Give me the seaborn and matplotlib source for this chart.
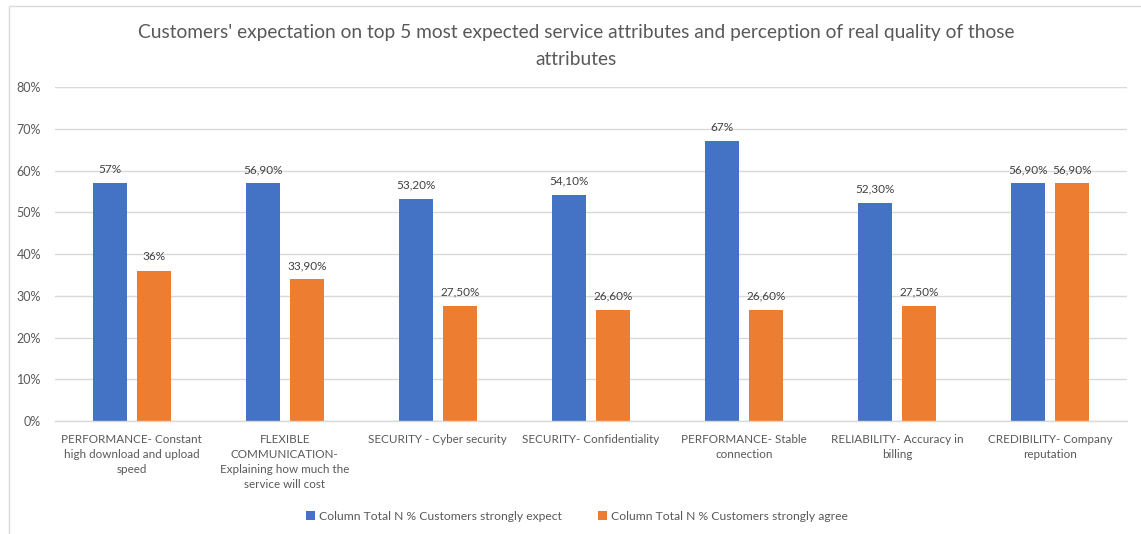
import pandas as pd
import seaborn as sns
import matplotlib.pyplot as plt
from matplotlib.patches import Rectangle

# Chart data
categories = [
    "PERFORMANCE- Constant\nhigh download and upload\nspeed",
    "FLEXIBLE\nCOMMUNICATION-\nExplaining how much the\nservice will cost",
    "SECURITY - Cyber security",
    "SECURITY- Confidentiality",
    "PERFORMANCE- Stable\nconnection",
    "RELIABILITY- Accuracy in\nbilling",
    "CREDIBILITY- Company\nreputation",
]
expect_values = [57.0, 56.9, 53.2, 54.1, 67.0, 52.3, 56.9]
agree_values = [36.0, 33.9, 27.5, 26.6, 26.6, 27.5, 56.9]
expect_labels = ["57%", "56,90%", "53,20%", "54,10%", "67%", "52,30%", "56,90%"]
agree_labels = ["36%", "33,90%", "27,50%", "26,60%", "26,60%", "27,50%", "56,90%"]
series_names = ["Column Total N % Customers strongly expect",
                "Column Total N % Customers strongly agree"]
y_ticks = [0, 10, 20, 30, 40, 50, 60, 70, 80]

df = pd.DataFrame({
    "Attribute": categories * 2,
    "Value": expect_values + agree_values,
    "Series": [series_names[0]] * len(categories) + [series_names[1]] * len(categories),
})

sns.set_theme(style="white")
plt.rcParams['font.family'] = ['Lato', 'DejaVu Sans']
text_color = '#595959'

fig = plt.figure(figsize=(11.41, 5.34), dpi=100)
ax = fig.add_axes([0.0482, 0.2116, 0.9395, 0.6254])

sns.barplot(data=df, x="Attribute", y="Value", hue="Series",
            palette=["#4472C4", "#ED7D31"], saturation=1, width=0.575, gap=0.23,
            linewidth=0, ax=ax, legend=True)

# Data labels
for container, labels in zip(ax.containers, [expect_labels, agree_labels]):
    ax.bar_label(container, labels=labels, padding=6, fontsize=8.5, color='#404040')

ax.set_ylim(0, 80)
ax.set_xlim(-0.5, len(categories) - 0.5)
ax.set_yticks(y_ticks, labels=[f"{t}%" for t in y_ticks])
ax.grid(axis='y', color='#d9d9d9', linewidth=1)
ax.set_axisbelow(True)
for side in ['top', 'right', 'left']:
    ax.spines[side].set_visible(False)
ax.spines['bottom'].set_color('#d9d9d9')
ax.spines['bottom'].set_linewidth(1)
ax.tick_params(axis='y', length=0, labelsize=9, colors=text_color, pad=10)
ax.tick_params(axis='x', length=0, labelsize=8.4, colors=text_color, pad=9)
ax.set_xlabel('')
ax.set_ylabel('')
for lbl in ax.get_xticklabels():
    lbl.set_verticalalignment('top')
    lbl.set_linespacing(1.45)

ax.set_title("Customers' expectation on top 5 most expected service attributes and perception of real quality of those\nattributes",
             fontsize=13.8, color=text_color, pad=16, linespacing=1.7, x=0.486)

# Legend below the plot
handles, labels = ax.get_legend_handles_labels()
ax.legend(handles, labels, loc='center', bbox_to_anchor=(0.487, -0.285), ncol=2,
          frameon=False, fontsize=8.7, handlelength=0.75, handleheight=0.75,
          columnspacing=3.0, handletextpad=0.3, labelcolor=text_color)

# Chart area border
fig.patches.append(Rectangle((9 / 1141, -0.01), 1.02, 1 - 6 / 534 + 0.01,
                             transform=fig.transFigure, fill=False,
                             edgecolor='#d9d9d9', linewidth=1))

plt.savefig("out.png", dpi=100)
